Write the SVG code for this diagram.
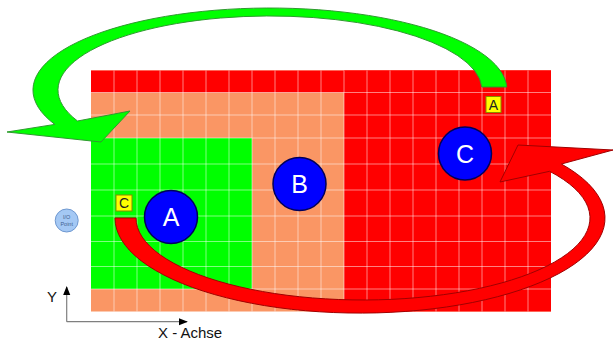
<svg xmlns="http://www.w3.org/2000/svg" width="614" height="341" viewBox="0 0 614 341">
<style>
.grid line, .gl{stroke:#ffffff;stroke-opacity:0.5;stroke-width:1;fill:none}
.big{fill:#0000ff;stroke:#00005a;stroke-width:1.5}
.bigt{font-family:"Liberation Sans",Arial,sans-serif;font-size:25px;fill:#ffffff;text-anchor:middle}
.tag{fill:#ffff00;stroke:#8a8a00;stroke-width:1}
.tagt{font-family:"Liberation Sans",Arial,sans-serif;font-size:14px;fill:#222222;text-anchor:middle}
.axis{stroke:#7f7f7f;stroke-width:1.2;fill:none}
.axt{font-family:"Liberation Sans",Arial,sans-serif;font-size:15px;fill:#111111}
</style>
<defs>
<marker id="ah" viewBox="0 0 10 10" refX="9" refY="5" markerWidth="9" markerHeight="9" markerUnits="userSpaceOnUse" orient="auto">
<path d="M0,1 L10,5 L0,9 Z" fill="#000000"/>
</marker>
</defs>
<rect width="614" height="341" fill="#ffffff"/>
<g id="grid">
<rect x="91" y="70.5" width="460" height="241" fill="#fa9664"/>
<rect x="91" y="70.5" width="460" height="22" fill="#ff0000"/>
<rect x="344" y="70.5" width="207" height="241" fill="#ff0000"/>
<rect x="91" y="138" width="161" height="151" fill="#00ff00"/>
<path class="gl" d="M114,70.5V311.5M137,70.5V311.5M160,70.5V311.5M183,70.5V311.5M206,70.5V311.5M229,70.5V311.5M252,70.5V311.5M275,70.5V311.5M298,70.5V311.5M321,70.5V311.5M344,70.5V311.5M367,70.5V311.5M390,70.5V311.5M413,70.5V311.5M436,70.5V311.5M459,70.5V311.5M482,70.5V311.5M505,70.5V311.5M528,70.5V311.5M91,92.5H551M91,115H551M91,138H551M91,164H551M91,190H551M91,216H551M91,241.5H551M91,266.5H551M91,289H551"/>
</g>
<g id="node-A">
<circle class="big" cx="171" cy="217" r="26.5"/>
<text class="bigt" x="171" y="226">A</text>
</g>
<g id="node-B">
<circle class="big" cx="299.5" cy="184" r="26.5"/>
<text class="bigt" x="299.5" y="193">B</text>
</g>
<g id="node-C">
<circle class="big" cx="465" cy="153.5" r="26.5"/>
<text class="bigt" x="465" y="162.5">C</text>
</g>
<g id="io-point">
<circle cx="66.7" cy="220.5" r="11.5" fill="#a4c8f4" stroke="#6f98d0" stroke-width="1"/>
<text x="66.7" y="219" font-family="Liberation Sans,Arial,sans-serif" font-size="5.5" fill="#3f5f90" text-anchor="middle">I/O</text>
<text x="66.7" y="225.5" font-family="Liberation Sans,Arial,sans-serif" font-size="5.5" fill="#3f5f90" text-anchor="middle">Point</text>
</g>
<g id="connectors">
<path id="green-arrow" d="M506.8,87 A237,82 0 1 0 54.8,124.4 L7,132 L101,142 L130,111 L77.5,121 A212,74 0 1 1 481.8,87 Z" fill="#00ff00" stroke="#2f9a2f" stroke-width="1"/>
<path id="red-arrow" d="M136,218 L115,218 A245,95 0 1 0 561.4,164 L613,150 L518,145 L500,182 L549.6,171.3 A227,82 0 1 1 136,218 Z" fill="#ff0000" stroke="#a00000" stroke-width="1"/>
<path class="axis" d="M66.7,321.7 V287" marker-end="url(#ah)"/>
<path class="axis" d="M66.7,321.7 H187" marker-end="url(#ah)"/>
</g>
<g id="tag-A">
<rect class="tag" x="486" y="96.5" width="15" height="16"/>
<text class="tagt" x="493.5" y="109.5">A</text>
</g>
<g id="tag-C">
<rect class="tag" x="116" y="195" width="16" height="16"/>
<text class="tagt" x="124" y="208">C</text>
</g>
<g id="axis-labels">
<text class="axt" x="47" y="302">Y</text>
<text class="axt" x="158" y="338">X - Achse</text>
</g>
</svg>
